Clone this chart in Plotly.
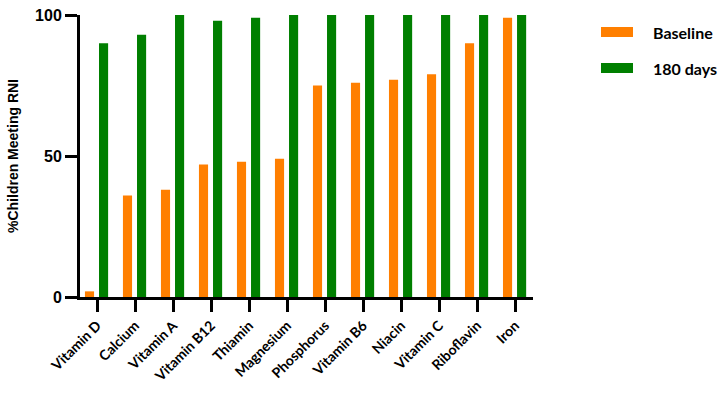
import plotly.graph_objects as go

categories = ["Vitamin D", "Calcium", "Vitamin A", "Vitamin B12", "Thiamin", "Magnesium",
              "Phosphorus", "Vitamin B6", "Niacin", "Vitamin C", "Riboflavin", "Iron"]
baseline = [2, 36, 38, 47, 48, 49, 75, 76, 77, 79, 90, 99]
days180 = [90, 93, 100, 98, 99, 100, 100, 100, 100, 100, 100, 100]
series_names = ["Baseline", "180 days"]
y_ticks = [0, 50, 100]

ORANGE = "#FF7F00"
GREEN = "#007F00"
colors = [ORANGE, GREEN]

fig = go.Figure()
fig.add_trace(go.Bar(x=categories, y=baseline, name=series_names[0],
                     marker=dict(color=ORANGE, line=dict(width=0)),
                     width=0.24, offset=-0.32, showlegend=False))
fig.add_trace(go.Bar(x=categories, y=days180, name=series_names[1],
                     marker=dict(color=GREEN, line=dict(width=0)),
                     width=0.24, offset=0.05, showlegend=False))

# legend drawn as patches + labels (paper coords)
L, R, T, B = 80, 194, 15, 96
W, H = 727, 393
pw, ph = W - L - R, H - T - B
def px(x):
    return (x - L) / pw
def py(y):
    return (H - B - y) / ph

for i, (nm, col) in enumerate(zip(series_names, colors)):
    yc = 32 + i * 36
    fig.add_shape(type="rect", xref="paper", yref="paper",
                  x0=px(601), x1=px(633), y0=py(yc + 5), y1=py(yc - 5),
                  fillcolor=col, line=dict(width=0))
    fig.add_annotation(xref="paper", yref="paper", x=px(651), y=py(yc),
                       xanchor="left", yanchor="middle", showarrow=False,
                       text=f"<b>{nm}</b>",
                       font=dict(family="Lato", size=16, color="black"))

fig.update_layout(
    width=W, height=H,
    margin=dict(l=L, r=R, t=T, b=B),
    plot_bgcolor="white", paper_bgcolor="white",
    barmode="group",
    xaxis=dict(range=[-0.45, 11.47], showline=True, linecolor="black", linewidth=3,
               ticks="outside", ticklen=12, tickwidth=3, tickcolor="black",
               tickangle=-45, showgrid=False, zeroline=False, automargin=False,
               tickvals=categories, ticktext=[f"<b>{c}</b>" for c in categories],
               tickfont=dict(family="Lato", size=14, color="black")),
    yaxis=dict(range=[0, 100], tickvals=y_ticks, ticktext=[f"<b>{t}</b>" for t in y_ticks],
               showline=True, linecolor="black", linewidth=3,
               ticks="outside", ticklen=12, tickwidth=3, tickcolor="black",
               showgrid=False, zeroline=False, automargin=False,
               tickfont=dict(family="Liberation Sans", size=16, color="black"),
               title=dict(text="<b>%Children Meeting RNI</b>", standoff=14,
                          font=dict(family="Liberation Sans", size=14, color="black"))),
)

fig.write_html("out.html")
